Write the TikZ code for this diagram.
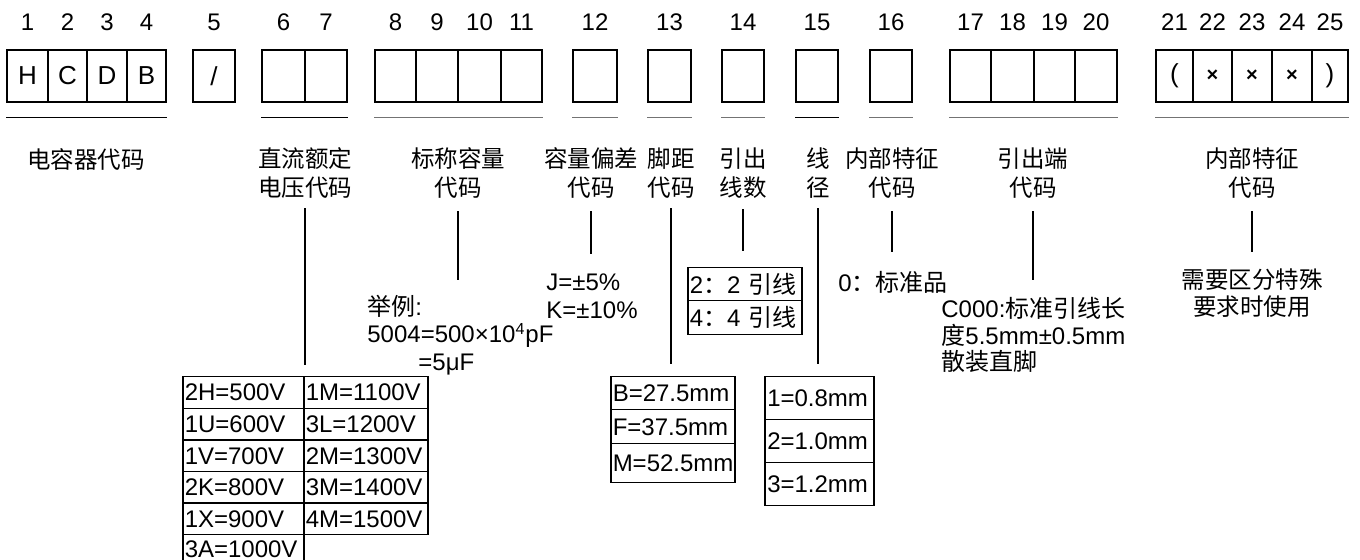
\documentclass[tikz,border=0pt]{standalone}
\usepackage{fontspec}
\setmainfont{Liberation Sans}
\newfontfamily\cjk{Noto Sans CJK SC}
\usetikzlibrary{positioning}
\tikzstyle{cell} = [draw, line width=0.65pt, minimum height=26pt, inner sep=0pt, font=\fontsize{13}{15}\selectfont]
\tikzstyle{digit} = [inner sep=0pt, font=\fontsize{12}{14}\selectfont]
\tikzstyle{lbl} = [inner sep=0pt, align=center, font=\cjk\fontsize{11.75}{14.5}\selectfont]
\tikzstyle{txt} = [inner sep=0pt, anchor=west, align=left, font=\fontsize{12}{13.75}\selectfont]
\tikzstyle{tcell} = [draw, line width=0.75pt, anchor=north west, inner xsep=1pt, inner ysep=0pt, align=left, font=\fontsize{12}{14}\selectfont]
\tikzstyle{lead} = [line width=0.9pt]
\tikzstyle{uline} = [line width=0.75pt]
\tikzstyle{gline} = [line width=0.6pt, black!55]
\newcommand\smallx{{\fontsize{10}{12}\selectfont\bfseries ×}}

\begin{document}
\begin{tikzpicture}[x=0.5pt, y=-0.5pt]
	\useasboundingbox (0,0) rectangle (1360,560);
	% code boxes and their numbers
	\foreach \n/\a/\b/\t in {1/7/48/H, 2/48/87/C, 3/87/127/D, 4/127/166/B,
		6/262/305/, 7/305/347/, 8/375/416/, 9/416/458/, 10/458/501/, 11/501/542/,
		12/573/617/, 13/648/691/, 14/722/764/, 15/796/838/, 16/870/912/,
		17/950/991/, 18/991/1034/, 19/1034/1075/, 20/1075/1117/,
		21/1156/1193/(, 22/1193/1232/\smallx, 23/1232/1272/\smallx, 24/1272/1312/\smallx, 25/1312/1348/)}
	{
		\node(c\n) [cell, minimum width={(\b-\a)*0.5pt}] at ({(\a+\b)/2},76) {\t};
		\node(t\n) [digit] at ([yshift=13.5pt]c\n.north) {\n};
	}
	\node(c5) [cell, minimum width=21pt] at (214,76) {/};
	\node(t5) [digit] at ([yshift=13.5pt]c5.north) {5};
	% group lines
	\draw [uline] ([yshift=-7.5pt]c1.south west) -- ([yshift=-7.5pt]c4.south east);
	\draw [uline] ([yshift=-7.5pt]c6.south west) -- ([yshift=-7.5pt]c7.south east);
	\draw [gline] ([yshift=-7.5pt]c8.south west) -- ([yshift=-7.5pt]c11.south east);
	\draw [gline] ([yshift=-7.5pt]c12.south west) -- ([yshift=-7.5pt]c12.south east);
	\draw [gline] ([yshift=-7.5pt]c13.south west) -- ([yshift=-7.5pt]c13.south east);
	\draw [gline] ([yshift=-7.5pt]c14.south west) -- ([yshift=-7.5pt]c14.south east);
	\draw [uline] ([yshift=-7.5pt]c15.south west) -- ([yshift=-7.5pt]c15.south east);
	\draw [gline] ([yshift=-7.5pt]c16.south west) -- ([yshift=-7.5pt]c16.south east);
	\draw [gline] ([yshift=-7.5pt]c17.south west) -- ([yshift=-7.5pt]c20.south east);
	\draw [gline] ([yshift=-7.5pt]c21.south west) -- ([yshift=-7.5pt]c25.south east);
	% field names
	\node(lbC) [lbl] at (86,160) {电容器代码};
	\node(lbV) [lbl] at (305,173.5) {直流额定\\电压代码};
	\node(lbN) [lbl] at (458,173.5) {标称容量\\代码};
	\node(lbT) [lbl] at (591,173.5) {容量偏差\\代码};
	\node(lbP) [lbl] at (671,173.5) {脚距\\代码};
	\node(lbL) [lbl] at (743,173.5) {引出\\线数};
	\node(lbD) [lbl] at (818,173.5) {线\\径};
	\node(lbI) [lbl] at (892,173.5) {内部特征\\代码};
	\node(lbE) [lbl] at (1033,173.5) {引出端\\代码};
	\node(lbS) [lbl] at (1252,173.5) {内部特征\\代码};
	% notes
	\node(ex) [txt] at (367,335) {{\cjk 举例}:\\5004=500×10\textsuperscript{4}pF\\\hspace*{25.5pt}=5μF};
	\node(tol) [txt, font=\fontsize{12}{14}\selectfont] at (546,296) {J=±5\%\\K=±10\%};
	\node(std) [txt] at (838,282) {0{\cjk ：标准品}};
	\node(lend) [txt, font=\fontsize{12}{13.25}\selectfont] at (941,335) {C000:{\cjk 标准引线长}\\{\cjk 度}5.5mm±0.5mm\\{\cjk 散装直脚}};
	\node(spec) [lbl, font=\cjk\fontsize{11.75}{13.5}\selectfont] at (1252,293.5) {需要区分特殊\\要求时使用};
	% lead count
	\node(n1) [tcell, text width=55pt, minimum height=16.5pt] at (687,267) {2{\cjk ：}2 {\cjk 引线}};
	\node(n2) [tcell, text width=55pt, minimum height=17pt] at (687,300) {4{\cjk ：}4 {\cjk 引线}};
	% voltage table
	\foreach \t [count=\i] in {2H=500V, 1U=600V, 1V=700V, 2K=800V, 1X=900V}
		\node(v\i) [tcell, text width=58.5pt, minimum height=15.8pt] at (182,{376+(\i-1)*31.6}) {\t};
	\node(v6) [tcell, text width=58.5pt, minimum height=14pt] at (182,534) {3A=1000V};
	\foreach \t [count=\i] in {1M=1100V, 3L=1200V, 2M=1300V, 3M=1400V, 4M=1500V}
		\node(w\i) [tcell, text width=60pt, minimum height=15.8pt] at (303,{376+(\i-1)*31.6}) {\t};
	% pitch table
	\node(p1) [tcell, text width=60pt, minimum height=16.5pt] at (610,376) {B=27.5mm};
	\node(p2) [tcell, text width=60pt, minimum height=17pt] at (610,409) {F=37.5mm};
	\node(p3) [tcell, text width=60pt, minimum height=19.5pt] at (610,443) {M=52.5mm};
	% wire table
	\node(d1) [tcell, text width=52pt, inner xsep=1.25pt, minimum height=21.5pt] at (764,376) {1=0.8mm};
	\node(d2) [tcell, text width=52pt, inner xsep=1.25pt, minimum height=21.5pt] at (764,419) {2=1.0mm};
	\node(d3) [tcell, text width=52pt, inner xsep=1.25pt, minimum height=21.5pt] at (764,462) {3=1.2mm};
	% leads
	\draw [lead, shorten <=4.5pt, shorten >=5.5pt] (lbV.south) -- (lbV.south |- v1.north);
	\draw [lead, shorten <=6pt, shorten >=7.5pt] (lbN.south) -- (lbN.south |- ex.north);
	\draw [lead, shorten <=6pt, shorten >=9.5pt] (lbT.south) -- (lbT.south |- tol.north);
	\draw [lead, shorten <=4.5pt, shorten >=6pt] (lbP.south) -- (lbP.south |- p1.north);
	\draw [lead, line width=0.7pt, shorten <=5pt, shorten >=8pt] (lbL.south) -- (lbL.south |- n1.north);
	\draw [lead, shorten <=4.5pt, shorten >=6pt] (lbD.south) -- (lbD.south |- d1.north);
	\draw [lead, line width=0.7pt, shorten <=6pt, shorten >=9.5pt] (lbI.south) -- (lbI.south |- std.north);
	\draw [lead, shorten <=6pt, shorten >=8.5pt] (lbE.south) -- (lbE.south |- lend.north);
	\draw [lead, line width=0.7pt, shorten <=6pt, shorten >=8.5pt] (lbS.south) -- (lbS.south |- spec.north);
\end{tikzpicture}
\end{document}
